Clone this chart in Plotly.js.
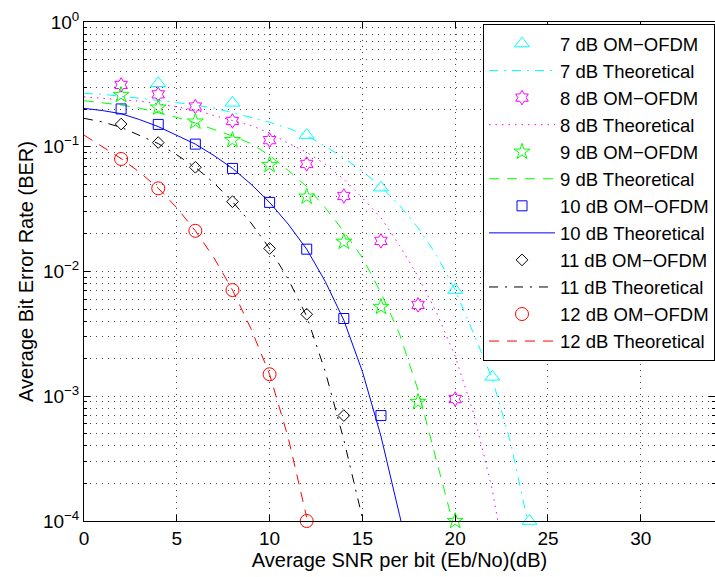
<!DOCTYPE html>
<html>
<head>
<meta charset="utf-8">
<script src="https://cdn.plot.ly/plotly-3.0.1.min.js"></script>
<style>html,body{margin:0;padding:0;background:#fff;}#chart{width:715px;height:577px;}</style>
</head>
<body>
<div id="chart"></div>
<script>
// ---- simulated (OM-OFDM) points ----
var snrSim7  = [4, 8, 12, 16, 20, 22, 24];
var berSim7  = [0.323, 0.225, 0.124, 0.047, 0.0071, 0.00143, 0.0001];
var snrSim8  = [2, 4, 6, 8, 10, 12, 14, 16, 18, 20];
var berSim8  = [0.313, 0.263, 0.21, 0.161, 0.113, 0.0728, 0.0403, 0.0176, 0.0054, 0.00095];
var snrSim9  = [2, 4, 6, 8, 10, 12, 14, 16, 18, 20];
var berSim9  = [0.26, 0.206, 0.159, 0.113, 0.0714, 0.0398, 0.0173, 0.0052, 0.0009, 0.0001];
var snrSim10 = [2, 4, 6, 8, 10, 12, 14, 16];
var berSim10 = [0.201, 0.151, 0.105, 0.067, 0.0358, 0.0151, 0.0042, 0.0007];
var snrSim11 = [2, 4, 6, 8, 10, 12, 14];
var berSim11 = [0.152, 0.108, 0.0685, 0.0363, 0.0153, 0.00454, 0.0007];
var snrSim12 = [2, 4, 6, 8, 10, 12];
var berSim12 = [0.0798, 0.0464, 0.0212, 0.0071, 0.0015, 0.0001];

// ---- theoretical curves ----
var snrTh7  = [0,1,2,3,4,5,6,7,8,9,10,11,12,13,14,15,16,17,18,19,20,21,22,23,23.9];
var berTh7  = [0.268,0.263,0.254,0.245,0.237,0.226,0.216,0.204,0.188,0.172,0.157,0.141,0.123,0.101,0.0813,0.0638,0.0479,0.0339,0.0224,0.0135,0.00708,0.00316,0.00138,0.000417,0.0001];
var snrTh8  = [0,1,2,3,4,5,6,7,8,9,10,11,12,13,14,15,16,17,18,19,20,21,22,22.3];
var berTh8  = [0.251,0.245,0.24,0.232,0.221,0.209,0.197,0.178,0.162,0.148,0.129,0.107,0.0902,0.0724,0.055,0.0389,0.0269,0.0162,0.00912,0.00468,0.00209,0.000724,0.000178,0.0001];
var snrTh9  = [0,1,2,3,4,5,6,7,8,9,10,11,12,13,14,15,16,17,18,19,19.85];
var berTh9  = [0.234,0.226,0.216,0.204,0.188,0.172,0.155,0.138,0.122,0.106,0.0851,0.0646,0.0479,0.0324,0.0209,0.0129,0.00676,0.00316,0.00112,0.000302,0.0001];
var snrTh10 = [0,1,2,3,4,5,6,7,8,9,10,11,12,13,14,15,16,17,17.08];
var berTh10 = [0.203,0.195,0.184,0.165,0.145,0.124,0.105,0.0851,0.0671,0.0501,0.0358,0.024,0.0151,0.00832,0.00407,0.00158,0.000479,0.000112,0.0001];
var snrTh11 = [0,1,2,3,4,5,6,7,8,9,10,11,12,13,14,15.04];
var berTh11 = [0.169,0.158,0.143,0.123,0.106,0.0861,0.0684,0.0513,0.0363,0.0245,0.0153,0.0087,0.00437,0.00158,0.000447,0.0001];
var snrTh12 = [0,1,2,3,4,5,6,7,8,9,10,11,12];
var berTh12 = [0.124,0.1,0.0804,0.0624,0.0465,0.0324,0.0212,0.0129,0.00711,0.00347,0.0015,0.000468,0.000107];

var levels = ['7 dB','8 dB','9 dB','10 dB','11 dB','12 dB'];
var colors = ['#00ffff','#ff00ff','#00ff00','#0000ff','#000000','#ff0000'];
var symbols = ['triangle-up-open','hexagram-open','star-open','square-open','diamond-open','circle-open'];
var msizes = [13, 11, 12, 10, 9, 13];
var dashes = ['9px,6px,2px,6px','1.5px,5px','10px,8px','solid','9px,7px,2px,7px','10px,8px'];
var simX = [snrSim7, snrSim8, snrSim9, snrSim10, snrSim11, snrSim12];
var simY = [berSim7, berSim8, berSim9, berSim10, berSim11, berSim12];
var thX = [snrTh7, snrTh8, snrTh9, snrTh10, snrTh11, snrTh12];
var thY = [berTh7, berTh8, berTh9, berTh10, berTh11, berTh12];

var traces = [];
for (var i = 0; i < levels.length; i++) {
  traces.push({
    x: simX[i], y: simY[i], type: 'scatter', mode: 'markers',
    name: levels[i] + ' OM\u2212OFDM',
    cliponaxis: false,
    marker: {symbol: symbols[i], size: msizes[i], color: colors[i], line: {color: colors[i], width: 1}}
  });
  traces.push({
    x: thX[i], y: thY[i], type: 'scatter', mode: 'lines',
    name: levels[i] + ' Theoretical',
    line: {color: colors[i], width: 1, dash: dashes[i]}
  });
}

var yTickVals = [1e-4, 1e-3, 1e-2, 1e-1, 1];
var yTickText = ['10<sup>\u22124</sup>','10<sup>\u22123</sup>','10<sup>\u22122</sup>','10<sup>\u22121</sup>','10<sup>0</sup>'];
var yMinor = [];
[1e-4, 1e-3, 1e-2, 1e-1].forEach(function (d) { for (var k = 2; k <= 9; k++) yMinor.push(k * d); });
var xTickVals = [0, 5, 10, 15, 20, 25, 30];

var font = 'Liberation Sans, Arial, Helvetica, sans-serif';
var layout = {
  width: 715, height: 577,
  margin: {l: 84, r: 0, t: 22, b: 56},
  paper_bgcolor: '#ffffff', plot_bgcolor: '#ffffff',
  font: {family: font, size: 18, color: '#000'},
  showlegend: true,
  xaxis: {
    range: [0, 34], tickmode: 'array', tickvals: xTickVals,
    ticks: 'inside', ticklen: 6, tickcolor: '#000', tickwidth: 1,
    showline: true, linecolor: '#000', linewidth: 1, mirror: 'ticks',
    showgrid: true, gridcolor: '#444', griddash: '1px,5px', gridwidth: 1,
    zeroline: false, tickfont: {size: 19},
    title: {text: 'Average SNR per bit (Eb/No)(dB)', font: {size: 20}, standoff: 1}
  },
  yaxis: {
    type: 'log', range: [-4, 0], tickmode: 'array', tickvals: yTickVals, ticktext: yTickText,
    ticks: 'inside', ticklen: 6, tickcolor: '#000', tickwidth: 1,
    showline: true, linecolor: '#000', linewidth: 1, mirror: 'ticks',
    showgrid: true, gridcolor: '#444', griddash: '1px,5px', gridwidth: 1,
    zeroline: false, tickfont: {size: 19},
    minor: {tickmode: 'array', tickvals: yMinor, ticks: 'inside', ticklen: 3, tickcolor: '#000',
            showgrid: true, gridcolor: '#444', griddash: '1px,5px', gridwidth: 1},
    title: {text: 'Average Bit Error Rate (BER)', font: {size: 20}, standoff: 3}
  },
  legend: {
    x: 1, xanchor: 'right', y: 0.996, yanchor: 'top',
    bgcolor: '#ffffff', bordercolor: '#000', borderwidth: 1,
    font: {size: 18.5, color: '#000'}, itemwidth: 66,
    traceorder: 'normal'
  }
};

Plotly.newPlot('chart', traces, layout, {displayModeBar: false, staticPlot: true});
</script>
</body>
</html>
